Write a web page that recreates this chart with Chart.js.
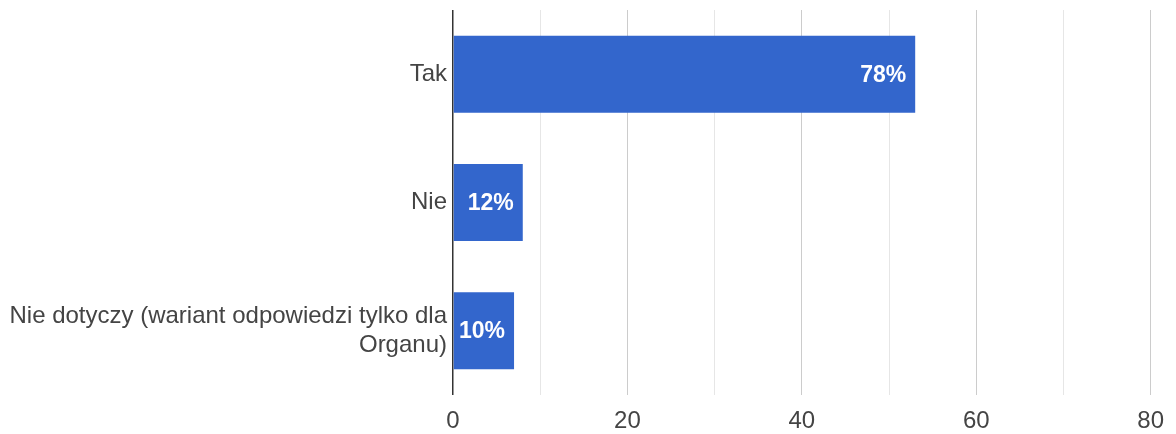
<!DOCTYPE html>
<html>
<head>
<meta charset="utf-8">
<script src="https://cdn.jsdelivr.net/npm/chart.js@4"></script>
<style>
  html, body { margin: 0; padding: 0; background: #fff; }
  #wrap { width: 1176px; height: 434px; }
</style>
</head>
<body>
<div id="wrap"><canvas id="chart" width="1176" height="434"></canvas></div>
<script>
const categories = ['Tak', 'Nie', ['Nie dotyczy (wariant odpowiedzi tylko dla', 'Organu)']];
const counts = [53, 8, 7];
const xTicks = [0, 20, 40, 60, 80];

const FONT = "Arial, 'Liberation Sans', sans-serif";
const total = counts.reduce((a, b) => a + b, 0);

// percentage of all answers, written at the end of each bar
const barLabels = {
    id: 'barLabels',
    afterDatasetsDraw(chart) {
        const {ctx} = chart;
        const meta = chart.getDatasetMeta(0);
        ctx.save();
        ctx.fillStyle = '#ffffff';
        ctx.font = 'bold 23px ' + FONT;
        ctx.textAlign = 'right';
        ctx.textBaseline = 'middle';
        meta.data.forEach((bar, i) => {
            const pct = Math.round(counts[i] / total * 100) + '%';
            ctx.fillText(pct, bar.x - 9, bar.y + 1);
        });
        ctx.restore();
    }
};

new Chart(document.getElementById('chart'), {
    type: 'bar',
    data: {
        labels: categories,
        datasets: [{
            data: counts,
            backgroundColor: '#3366cc',
            borderWidth: 0,
            categoryPercentage: 1,
            barPercentage: 0.6,
        }]
    },
    options: {
        indexAxis: 'y',
        responsive: false,
        animation: false,
        layout: {padding: {top: 10, right: 22, left: 0, bottom: 0}},
        plugins: {legend: {display: false}, tooltip: {enabled: false}},
        scales: {
            x: {
                min: 0,
                max: 80,
                afterFit: s => { s.height = 39; },
                border: {display: false},
                grid: {
                    drawTicks: false,
                    color: c => c.tick.value === 0 ? '#333333' : (c.tick.value % 20 === 0 ? '#cccccc' : '#e6e6e6'),
                    lineWidth: c => c.tick.value === 0 ? 1.5 : 1,
                },
                ticks: {
                    stepSize: 10,
                    padding: 12,
                    color: '#444',
                    font: {family: FONT, size: 24},
                    callback: v => xTicks.includes(v) ? String(v) : '',
                }
            },
            y: {
                afterFit: s => { s.width = 453; s.paddingTop = 0; s.paddingBottom = 0; },
                border: {display: false},
                grid: {display: false, drawTicks: false, tickLength: 0},
                ticks: {
                    padding: 6,
                    color: '#444',
                    font: {family: FONT, size: 24},
                }
            }
        }
    },
    plugins: [barLabels]
});
</script>
</body>
</html>
